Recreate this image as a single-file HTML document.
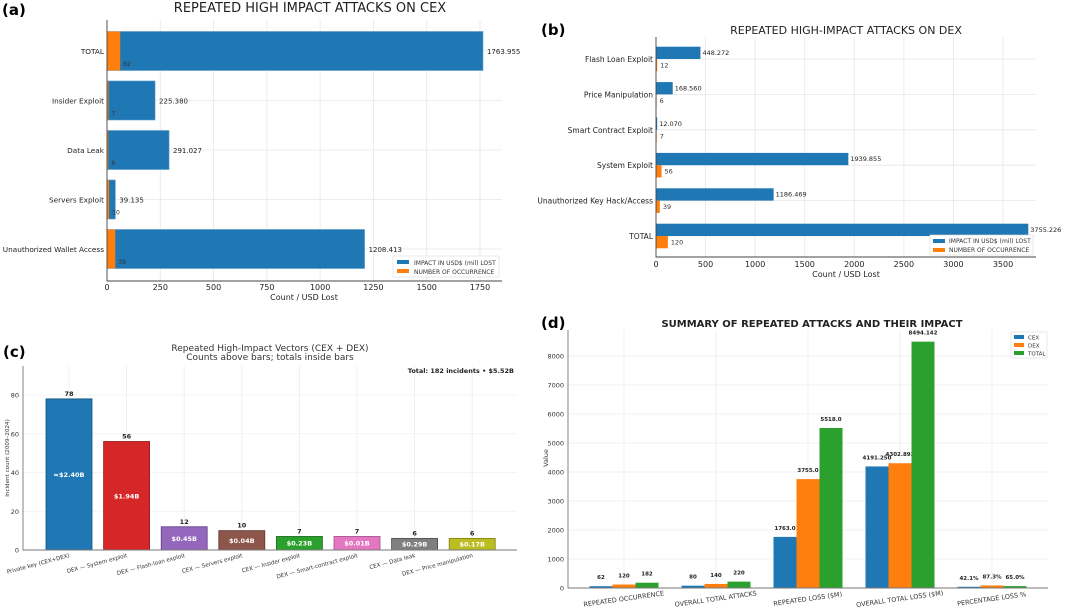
<!DOCTYPE html>
<html><head><meta charset="utf-8"><style>
html,body{margin:0;padding:0;background:#fff;}
svg{display:block;font-family:"DejaVu Sans","Liberation Sans",sans-serif;}
</style></head><body>
<svg id="fig" width="1065" height="612" viewBox="0 0 1065 612" xmlns="http://www.w3.org/2000/svg">
<g id="pa"></g>
<g id="pb"></g>
<g id="pc"></g>
<g id="pd"></g>
</svg>
<script>
// Panel (a)
const aCategories = ["TOTAL","Insider Exploit","Data Leak","Servers Exploit","Unauthorized Wallet Access"];
const aImpact = [1763.955,225.380,291.027,39.135,1208.413];
const aImpactLabels = ["1763.955","225.380","291.027","39.135","1208.413"];
const aCount = [62,7,6,10,39];
const aTicks = [0,250,500,750,1000,1250,1500,1750];
// Panel (b)
const bCategories = ["Flash Loan Exploit","Price Manipulation","Smart Contract Exploit","System Exploit","Unauthorized Key Hack/Access","TOTAL"];
const bImpact = [448.272,168.560,12.070,1939.855,1186.469,3755.226];
const bImpactLabels = ["448.272","168.560","12.070","1939.855","1186.469","3755.226"];
const bCount = [12,6,7,56,39,120];
const bTicks = [0,500,1000,1500,2000,2500,3000,3500];
// Panel (c)
const cCategories = ["Private key (CEX+DEX)","DEX — System exploit","DEX — Flash-loan exploit","CEX — Servers exploit","CEX — Insider exploit","DEX — Smart-contract exploit","CEX — Data leak","DEX — Price manipulation"];
const cCounts = [78,56,12,10,7,7,6,6];
const cTotals = ["≈$2.40B","$1.94B","$0.45B","$0.04B","$0.23B","$0.01B","$0.29B","$0.17B"];
const cTicks = [0,20,40,60,80];
// Panel (d)
const dCategories = ["REPEATED OCCURRENCE","OVERALL TOTAL ATTACKS","REPEATED LOSS ($M)","OVERALL TOTAL LOSS ($M)","PERCENTAGE LOSS %"];
const dCEX = [62,80,1763.0,4191.250,42.1];
const dDEX = [120,140,3755.0,4302.892,87.3];
const dTOTAL = [182,220,5518.0,8494.142,65.0];
const dCEXLabels = ["62","80","1763.0","4191.250","42.1%"];
const dDEXLabels = ["120","140","3755.0","4302.892","87.3%"];
const dTOTALLabels = ["182","220","5518.0","8494.142","65.0%"];
const dTicks = [0,1000,2000,3000,4000,5000,6000,7000,8000];

const NS="http://www.w3.org/2000/svg";
function mk(parent,tag,attrs,text){const e=document.createElementNS(NS,tag);for(const k in attrs)e.setAttribute(k,attrs[k]);if(text!==undefined)e.textContent=text;parent.appendChild(e);return e;}
const BLUE="#1f77b4",ORANGE="#ff7f0e",GREEN="#2ca02c",GRID="#e6e6e6",AX="#444";

// ---------- Panel A ----------
(function(){
const g=document.getElementById('pa');
const L=107,R=502,T=20,B=281;
const x=v=>L+v*(373/1750);
const yc=i=>51+i*49.5;
let t=mk(g,'text',{x:2,y:15,'font-size':15,'font-weight':'bold',fill:'#000'},'(a)');

t=mk(g,'text',{x:310,y:12,'font-size':13,'text-anchor':'middle',fill:'#222'},'REPEATED HIGH IMPACT ATTACKS ON CEX');

aTicks.forEach(v=>{
 const l=mk(g,'line',{x1:x(v),x2:x(v),y1:T,y2:B,stroke:GRID,'stroke-width':0.8});
 
 const tl=mk(g,'text',{x:x(v),y:290,'font-size':8,'text-anchor':'middle',fill:'#222'},String(v));
 
});
aCategories.forEach((c,i)=>{
 const gl=mk(g,'line',{x1:L,x2:R,y1:yc(i),y2:yc(i),stroke:GRID,'stroke-width':0.8});
 
 const b=mk(g,'rect',{x:L,y:yc(i)-19.5,width:x(aImpact[i])-L,height:39,fill:BLUE,stroke:'#5a9bd0','stroke-width':0.6});
 
 const o=mk(g,'rect',{x:L,y:yc(i)-19.5,width:x(aCount[i])-L,height:39,fill:ORANGE});
 
 const lv=mk(g,'text',{x:x(aImpact[i])+4,y:yc(i)+3,'font-size':7,fill:'#222'},aImpactLabels[i]);
 
 const lc=mk(g,'text',{x:x(aCount[i])+3,y:yc(i)+15,'font-size':6,fill:'#333'},String(aCount[i]));
 
 const yl=mk(g,'text',{x:L-3,y:yc(i)+3,'font-size':7.3,'text-anchor':'end',fill:'#222'},c);
 
});
let a=mk(g,'path',{d:`M${L},${T}V${B}H${R}`,fill:'none',stroke:AX,'stroke-width':0.9});

t=mk(g,'text',{x:304,y:300,'font-size':8,'text-anchor':'middle',fill:'#222'},'Count / USD Lost');

const lg=mk(g,'g',{});
mk(lg,'rect',{x:393,y:256,width:106,height:21,fill:'#fff',stroke:'#ddd','stroke-width':0.6});
mk(lg,'rect',{x:397,y:260,width:12,height:4,fill:BLUE});
mk(lg,'rect',{x:397,y:269,width:12,height:4,fill:ORANGE});
let e=mk(lg,'text',{x:414,y:265,'font-size':6,fill:'#333'},'IMPACT IN USD$ (mil) LOST');
e=mk(lg,'text',{x:414,y:274,'font-size':6,fill:'#333'},'NUMBER OF OCCURRENCE');
})();

// ---------- Panel B ----------
(function(){
const g=document.getElementById('pb');
const L=656,R=1036,T=37,B=257;
const x=v=>L+v*(347/3500);
const yc=i=>59+i*35.4;
let t=mk(g,'text',{x:541,y:35,'font-size':15,'font-weight':'bold',fill:'#000'},'(b)');

t=mk(g,'text',{x:846,y:34,'font-size':11,'text-anchor':'middle',fill:'#222'},'REPEATED HIGH-IMPACT ATTACKS ON DEX');

bTicks.forEach(v=>{
 const l=mk(g,'line',{x1:x(v),x2:x(v),y1:T,y2:B,stroke:GRID,'stroke-width':0.8});
 
 const tl=mk(g,'text',{x:x(v),y:267,'font-size':8,'text-anchor':'middle',fill:'#222'},String(v));
 
});
bCategories.forEach((c,i)=>{
 const gl=mk(g,'line',{x1:L,x2:R,y1:yc(i),y2:yc(i),stroke:GRID,'stroke-width':0.8});
 
 const b=mk(g,'rect',{x:L,y:yc(i)-12.3,width:x(bImpact[i])-L,height:12.3,fill:BLUE});
 
 const o=mk(g,'rect',{x:L,y:yc(i),width:x(bCount[i])-L,height:12.3,fill:ORANGE});
 
 const lv=mk(g,'text',{x:x(bImpact[i])+2,y:yc(i)-4,'font-size':6.5,fill:'#222'},bImpactLabels[i]);
 
 const lc=mk(g,'text',{x:x(bCount[i])+3,y:yc(i)+8.5,'font-size':6.5,fill:'#333'},String(bCount[i]));
 
 const yl=mk(g,'text',{x:L-3,y:yc(i)+3,'font-size':7.5,'text-anchor':'end',fill:'#222'},c);
 
});
let a=mk(g,'path',{d:`M${L},${T}V${B}H${R}`,fill:'none',stroke:AX,'stroke-width':0.9});

t=mk(g,'text',{x:846,y:277,'font-size':8,'text-anchor':'middle',fill:'#222'},'Count / USD Lost');

const lg=mk(g,'g',{});
mk(lg,'rect',{x:930,y:235,width:103,height:20,fill:'#fff',stroke:'#ddd','stroke-width':0.6});
mk(lg,'rect',{x:933,y:239,width:12,height:4,fill:BLUE});
mk(lg,'rect',{x:933,y:248,width:12,height:4,fill:ORANGE});
let e=mk(lg,'text',{x:949,y:243,'font-size':6,fill:'#333'},'IMPACT IN USD$ (mil) LOST');
e=mk(lg,'text',{x:949,y:252,'font-size':6,fill:'#333'},'NUMBER OF OCCURRENCE');
})();

// ---------- Panel C ----------
(function(){
const g=document.getElementById('pc');
const L=23,R=517,T=366,B=550;
const y=v=>B-v*(155/80);
const xc=i=>69+i*57.6;
const W=46;
const fills=["#1f77b4","#d62728","#9467bd","#8c564b","#2ca02c","#e377c2","#7f7f7f","#bcbd22"];
const edges=["#15507d","#8f1b1b","#5e3f80","#5a372f","#1d6b1d","#a35089","#4d4d4d","#7d7e16"];
let t=mk(g,'text',{x:3,y:357,'font-size':15,'font-weight':'bold',fill:'#000'},'(c)');

t=mk(g,'text',{x:270,y:351,'font-size':9,'text-anchor':'middle',fill:'#333'},'Repeated High-Impact Vectors (CEX + DEX)');

t=mk(g,'text',{x:270,y:360,'font-size':9,'text-anchor':'middle',fill:'#333'},'Counts above bars; totals inside bars');

cTicks.forEach(v=>{
 const l=mk(g,'line',{x1:L,x2:R,y1:y(v),y2:y(v),stroke:'#f0f0f0','stroke-width':0.8});
 
 const tl=mk(g,'text',{x:L-4,y:y(v)+2.5,'font-size':6.5,'text-anchor':'end',fill:'#333'},String(v));
 
});
cCategories.forEach((c,i)=>{
 const gl=mk(g,'line',{x1:xc(i),x2:xc(i),y1:T,y2:B,stroke:'#ececec','stroke-width':0.8});
 
});
cCategories.forEach((c,i)=>{
 const b=mk(g,'rect',{x:xc(i)-W/2,y:y(cCounts[i]),width:W,height:B-y(cCounts[i]),fill:fills[i],stroke:edges[i],'stroke-width':0.8});
 
 const lc=mk(g,'text',{x:xc(i),y:y(cCounts[i])-3,'font-size':6.5,'font-weight':'bold','text-anchor':'middle',fill:'#222'},String(cCounts[i]));
 
 const lt=mk(g,'text',{x:xc(i),y:(y(cCounts[i])+B)/2+2.5,'font-size':6.5,'font-weight':'bold','text-anchor':'middle',fill:'#fff'},cTotals[i]);
 
 const xl=mk(g,'text',{x:0,y:0,'font-size':5.6,'text-anchor':'end',fill:'#333',transform:`translate(${xc(i)+1},${B+7}) rotate(-15)`},c);
 
});
let a=mk(g,'path',{d:`M${L},${T}V${B}H${R}`,fill:'none',stroke:'#777','stroke-width':0.9});

t=mk(g,'text',{x:0,y:0,'font-size':5.6,'text-anchor':'middle',fill:'#333',transform:'translate(9,458) rotate(-90)'},'Incident count (2009–2024)');

t=mk(g,'text',{x:514,y:373,'font-size':6.5,'font-weight':'bold','text-anchor':'end',fill:'#222'},'Total: 182 incidents • $5.52B');

})();

// ---------- Panel D ----------
(function(){
const g=document.getElementById('pd');
const L=568,R=1048,T=330,B=588;
const y=v=>B-v*(232/8000);
const gc=i=>624+i*92;
const W=23;
const series=[{v:dCEX,l:dCEXLabels,c:BLUE,n:'cex-bar'},{v:dDEX,l:dDEXLabels,c:ORANGE,n:'dex-bar'},{v:dTOTAL,l:dTOTALLabels,c:GREEN,n:'total-bar'}];
let t=mk(g,'text',{x:541,y:328,'font-size':15,'font-weight':'bold',fill:'#000'},'(d)');

t=mk(g,'text',{x:812,y:327,'font-size':10,'font-weight':'bold','text-anchor':'middle',fill:'#222'},'SUMMARY OF REPEATED ATTACKS AND THEIR IMPACT');

dTicks.forEach(v=>{
 const l=mk(g,'line',{x1:L,x2:R,y1:y(v),y2:y(v),stroke:'#ececec','stroke-width':0.8});
 
 const tl=mk(g,'text',{x:L-4,y:y(v)+2.5,'font-size':6.5,'text-anchor':'end',fill:'#333'},String(v));
 
});
dCategories.forEach((c,i)=>{
 const gl=mk(g,'line',{x1:gc(i),x2:gc(i),y1:T,y2:B,stroke:'#ececec','stroke-width':0.8});
 
});
dCategories.forEach((c,i)=>{
 series.forEach((s,j)=>{
  const cx=gc(i)+(j-1)*W;
  const b=mk(g,'rect',{x:cx-W/2,y:y(s.v[i]),width:W,height:B-y(s.v[i]),fill:s.c});
  
  const lb=mk(g,'text',{x:cx,y:y(s.v[i])-7,'font-size':5.5,'font-weight':'bold','text-anchor':'middle',fill:'#222'},s.l[i]);
  
 });
 const xl=mk(g,'text',{x:0,y:0,'font-size':6.5,'text-anchor':'middle',fill:'#333',transform:`translate(${gc(i)},${B+13}) rotate(-8)`},c);
 
});
let a=mk(g,'path',{d:`M${L},${T}V${B}H${R}`,fill:'none',stroke:'#777','stroke-width':0.9});

t=mk(g,'text',{x:0,y:0,'font-size':6.5,'text-anchor':'middle',fill:'#333',transform:'translate(548,458) rotate(-90)'},'Value');

const lg=mk(g,'g',{});
mk(lg,'rect',{x:1011,y:332,width:36,height:26,fill:'#fff',stroke:'#ddd','stroke-width':0.6});
[['CEX',BLUE],['DEX',ORANGE],['TOTAL',GREEN]].forEach((p,k)=>{
 mk(lg,'rect',{x:1014,y:335+k*8,width:10,height:4,fill:p[1]});
 const e=mk(lg,'text',{x:1028,y:339.5+k*8,'font-size':5.5,fill:'#333'},p[0]);
 
});
})();
</script>
</body></html>
